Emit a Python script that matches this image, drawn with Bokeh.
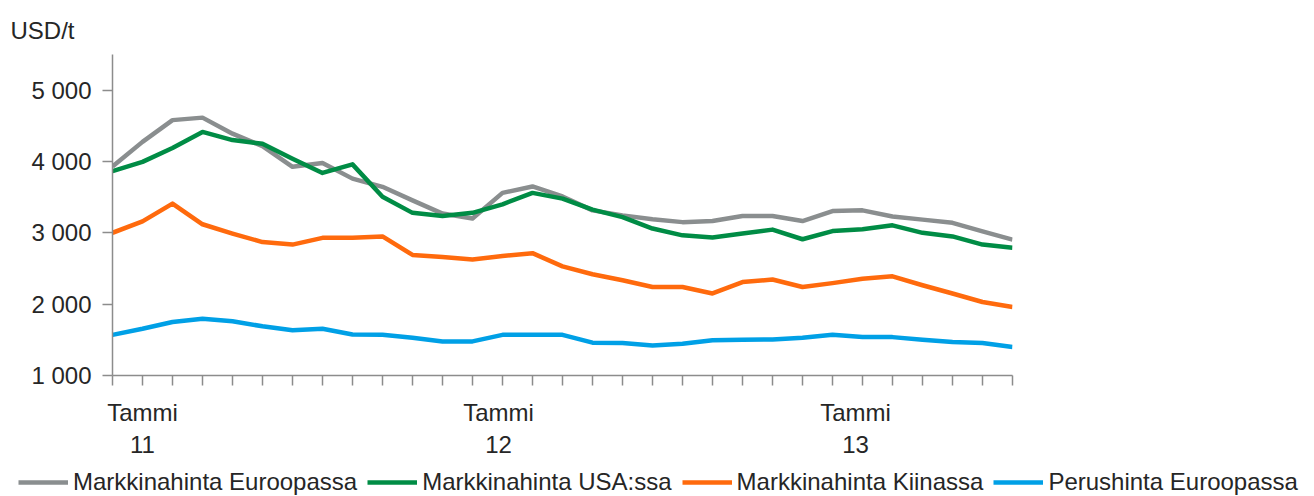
from bokeh.plotting import figure
from bokeh.layouts import column
from bokeh.models import Range1d, FixedTicker, Legend, LegendItem, Title
from bokeh.embed import file_html
from bokeh.resources import INLINE

# Monthly observations, Jan 2011 .. Jul 2013 (index 0..30)
months = list(range(31))
euro_market = [3930, 4275, 4580, 4615, 4390, 4215, 3925, 3980, 3760, 3645, 3455,
               3270, 3200, 3560, 3650, 3510, 3315, 3245, 3190, 3150, 3165,
               3235, 3235, 3165, 3305, 3315, 3230, 3185, 3140, 3020, 2905]
usa_market = [3865, 3995, 4190, 4415, 4300, 4250, 4040, 3840, 3960, 3505, 3280,
              3235, 3280, 3400, 3560, 3480, 3325, 3220, 3060, 2965, 2935,
              2990, 3045, 2910, 3025, 3050, 3105, 3000, 2950, 2835, 2790]
china_market = [3000, 3160, 3410, 3120, 2990, 2870, 2835, 2930, 2930, 2950, 2690,
                2660, 2625, 2675, 2715, 2530, 2420, 2335, 2240, 2240, 2150,
                2310, 2345, 2240, 2295, 2355, 2390, 2265, 2150, 2030, 1960]
euro_base = [1570, 1655, 1750, 1795, 1760, 1690, 1635, 1655, 1575, 1570, 1530,
             1478, 1478, 1570, 1570, 1570, 1460, 1455, 1422, 1445, 1495,
             1500, 1505, 1530, 1570, 1540, 1538, 1500, 1468, 1455, 1400]

series_names = ["Markkinahinta Euroopassa", "Markkinahinta USA:ssa",
                "Markkinahinta Kiinassa", "Perushinta Euroopassa"]
series_values = [euro_market, usa_market, china_market, euro_base]
colors = ["#8a8e8f", "#008c45", "#ff6a0d", "#00a0e6"]

x_label_pos = [1, 12.87, 24.77]
x_label_text = ["Tammi\n11", "Tammi\n12", "Tammi\n13"]
y_ticks = [1000, 2000, 3000, 4000, 5000]
y_tick_labels = ["1 000", "2 000", "3 000", "4 000", "5 000"]

FONT = "Liberation Sans"
TXT = "#262626"
AX = "#8c8c8c"
W = 1310

p = figure(width=W, height=468, output_backend="svg", toolbar_location=None,
           x_range=Range1d(0, 30), y_range=Range1d(1000, 5500),
           min_border_left=112, min_border_right=W - 1012, min_border_top=54,
           min_border_bottom=93)
p.outline_line_color = None
p.xgrid.visible = False
p.ygrid.visible = False
p.frame_align = False

t = Title(text="USD/t", align="left", offset=-102, standoff=22, text_font=FONT,
          text_font_size="24px", text_font_style="normal", text_color=TXT,
          text_line_height=1.0)
p.add_layout(t, "above")

for vals, c in zip(series_values, colors):
    p.line(months, vals, line_color=c, line_width=4.5, line_join="round")

xa = p.xaxis[0]
xa.ticker = FixedTicker(ticks=x_label_pos, minor_ticks=months)
xa.major_label_overrides = {v: s for v, s in zip(x_label_pos, x_label_text)}
xa.major_tick_out = 0
xa.major_tick_in = 0
xa.minor_tick_out = 10
xa.minor_tick_in = 0
xa.minor_tick_line_color = AX
xa.minor_tick_line_width = 1.5
xa.axis_line_color = AX
xa.axis_line_width = 1.5
xa.major_label_standoff = 13
xa.major_label_text_font = FONT
xa.major_label_text_font_size = "24px"
xa.major_label_text_line_height = 1.2
xa.major_label_text_color = TXT

ya = p.yaxis[0]
ya.ticker = FixedTicker(ticks=y_ticks)
ya.major_label_overrides = {v: s for v, s in zip(y_ticks, y_tick_labels)}
ya.major_tick_out = 10
ya.major_tick_in = 0
ya.minor_tick_out = 0
ya.minor_tick_in = 0
ya.major_tick_line_color = AX
ya.major_tick_line_width = 1.5
ya.axis_line_color = AX
ya.axis_line_width = 1.5
ya.major_label_standoff = 11
ya.major_label_text_font = FONT
ya.major_label_text_font_size = "24px"
ya.major_label_text_color = TXT

# Legend strip below the chart (its own frame spans the full width)
pl = figure(width=W, height=28, output_backend="svg", toolbar_location=None,
            x_axis_type=None, y_axis_type=None,
            x_range=Range1d(0, 30), y_range=Range1d(1000, 5500),
            min_border_left=0, min_border_right=0, min_border_top=0,
            min_border_bottom=0)
pl.outline_line_color = None
pl.xgrid.visible = False
pl.ygrid.visible = False
pl.frame_align = False
items = []
for name, vals, c in zip(series_names, series_values, colors):
    r = pl.line(months, vals, line_color=c, line_width=4.5, visible=False)
    items.append(LegendItem(label=name, renderers=[r]))

legend = Legend(items=items, orientation="horizontal", location=(18, 0),
                glyph_width=50, glyph_height=20, label_standoff=5, spacing=10,
                padding=0, margin=0, border_line_alpha=0, background_fill_alpha=0,
                inactive_fill_alpha=0,
                label_text_font=FONT, label_text_font_size="24px",
                label_text_color=TXT)
pl.add_layout(legend)

layout = column(p, pl, spacing=0)
open("out.html", "w").write(file_html(layout, INLINE))
